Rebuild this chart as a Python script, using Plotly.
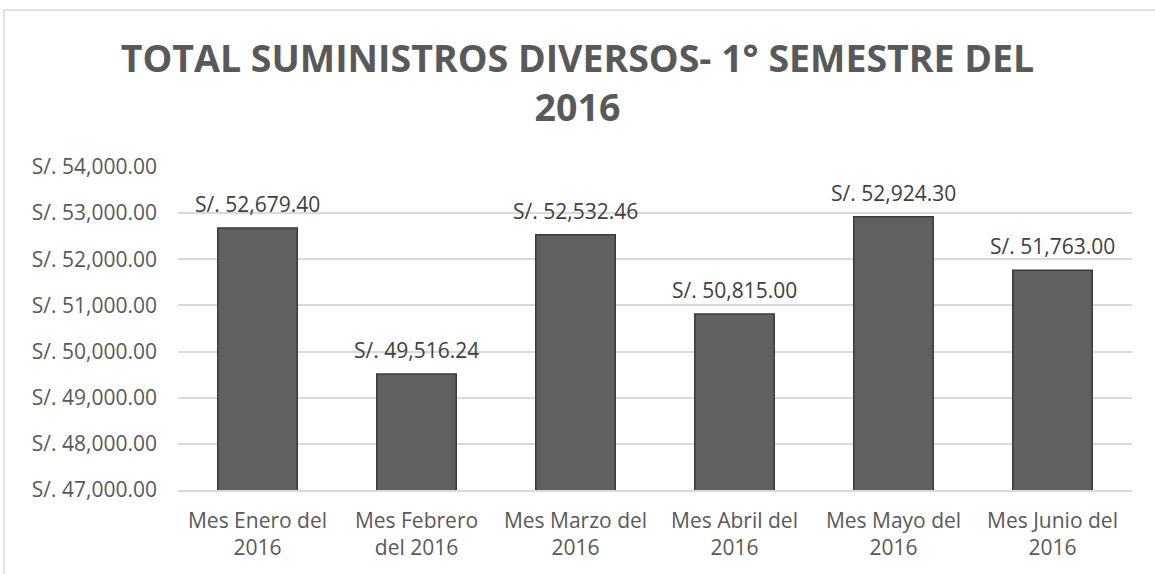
import plotly.graph_objects as go

meses = ["Mes Enero del<br>2016", "Mes Febrero<br>del 2016", "Mes Marzo del<br>2016",
         "Mes Abril del<br>2016", "Mes Mayo del<br>2016", "Mes Junio del<br>2016"]
totales = [52679.40, 49516.24, 52532.46, 50815.00, 52924.30, 51763.00]
ticks_y = [47000, 48000, 49000, 50000, 51000, 52000, 53000, 54000]

W, H = 1155, 574
ml, mr, mt, mb = 178, 23, 167, 84
pw, ph = W - ml - mr, H - mt - mb

fig = go.Figure()
fig.add_trace(go.Bar(
    x=meses, y=totales,
    marker=dict(color="#606060", line=dict(color="#3a3a3a", width=1.5)),
))

# data labels above the bars
for mes, valor in zip(meses, totales):
    fig.add_annotation(x=mes, y=valor, text=f"S/. {valor:,.2f}", showarrow=False,
                       yanchor="bottom", yshift=8,
                       font=dict(size=21, color="#404040"))

fig.update_layout(
    width=W, height=H,
    margin=dict(l=ml, r=mr, t=mt, b=mb, autoexpand=False),
    paper_bgcolor="white", plot_bgcolor="white",
    font=dict(family="Open Sans", color="#595959"),
    title=dict(text="<b>TOTAL SUMINISTROS DIVERSOS- 1° SEMESTRE DEL<br>2016</b>",
               x=0.5, xanchor="center", y=0.874, yanchor="top",
               font=dict(size=37.5, color="#595959")),
    bargap=0.5, showlegend=False,
)
fig.update_yaxes(range=[47000, 54000], tickvals=ticks_y,
                 ticktext=["S/. " + f"{v:,.2f}" for v in ticks_y],
                 showgrid=True, gridcolor="#d9d9d9", gridwidth=1.5, zeroline=False,
                 tickfont=dict(size=21, color="#595959"), ticks="", showline=False,
                 ticklabelstandoff=20, automargin=False)
fig.update_xaxes(showline=True, linecolor="#d9d9d9", linewidth=1.5, ticks="",
                 tickfont=dict(size=21, color="#595959"), automargin=False,
                 ticklabelstandoff=11)

# outer chart border (extends beyond the image on the right and bottom)
fig.add_shape(type="rect", xref="paper", yref="paper",
              x0=(4 - ml) / pw, x1=(W + 20 - ml) / pw,
              y0=-(mb + 20) / ph, y1=1 + (mt - 10) / ph,
              line=dict(color="#d9d9d9", width=1.5), fillcolor="rgba(0,0,0,0)", layer="below")

fig.write_html("out.html", config={"displayModeBar": False},
               post_script="document.body.style.margin='0';")
